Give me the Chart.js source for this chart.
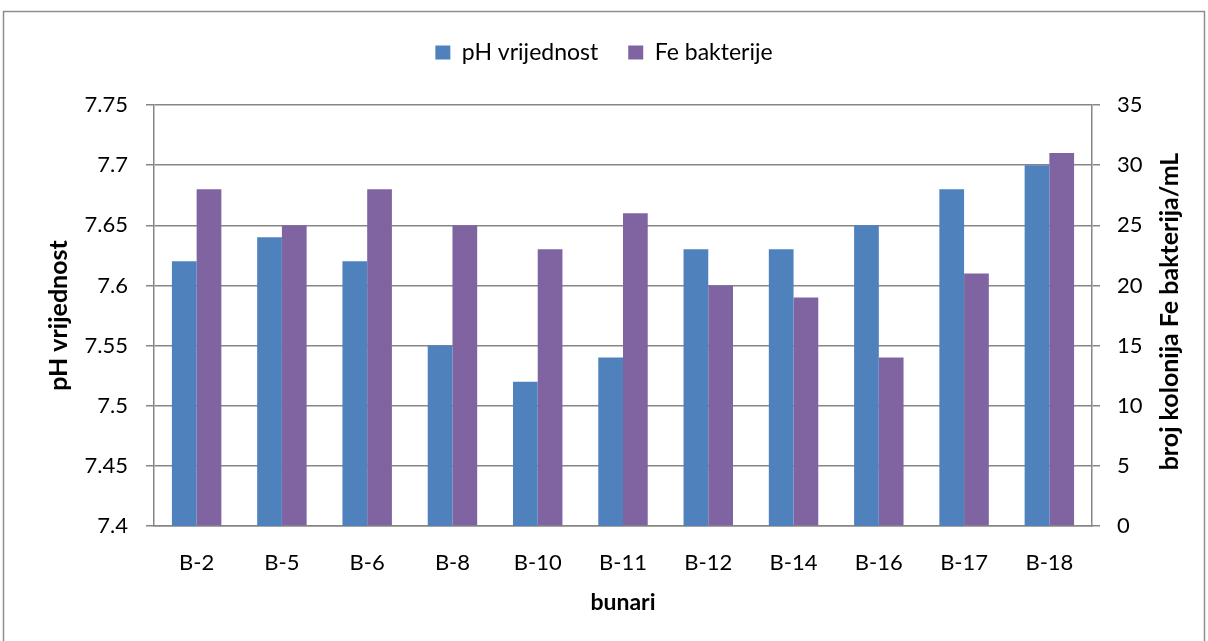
<!DOCTYPE html>
<html>
<head>
<meta charset="utf-8">
<script src="https://cdn.jsdelivr.net/npm/chart.js@4.4.0/dist/chart.umd.min.js"></script>
<style>
html, body { margin: 0; padding: 0; background: #fff; }
#wrap { width: 1208px; height: 641px; position: relative; }
</style>
</head>
<body>
<div id="wrap"><canvas id="chart" width="1208" height="641"></canvas></div>
<script>
// data
const bunari = ['B-2', 'B-5', 'B-6', 'B-8', 'B-10', 'B-11', 'B-12', 'B-14', 'B-16', 'B-17', 'B-18'];
const phVrijednost = [7.62, 7.64, 7.62, 7.55, 7.52, 7.54, 7.63, 7.63, 7.65, 7.68, 7.70];
const feBakterije = [28, 25, 28, 25, 23, 26, 20, 19, 14, 21, 31];
const phTicks = ['7.4', '7.45', '7.5', '7.55', '7.6', '7.65', '7.7', '7.75'];
const feTicks = ['0', '5', '10', '15', '20', '25', '30', '35'];
const rightTitle = 'broj kolonija Fe bakterija/mL';

const gray = '#868686';
const fontName = 'Lato';

// outer frame + right axis title (reads bottom to top like the left one)
const frame = {
    id: 'frame',
    beforeDraw(chart) {
        const ctx = chart.ctx;
        ctx.save();
        ctx.fillStyle = '#fff';
        ctx.fillRect(0, 0, chart.width, chart.height);
        ctx.strokeStyle = '#8e8e8e';
        ctx.lineWidth = 1.5;
        ctx.strokeRect(3.5, 11.5, 1201, 700);
        ctx.restore();
    },
    afterDraw(chart) {
        const ctx = chart.ctx;
        const a = chart.chartArea;
        ctx.save();
        ctx.translate(chart.scales.y1.right - 38, (a.top + a.bottom) / 2 - 4);
        ctx.rotate(-Math.PI / 2);
        ctx.font = 'bold 25px ' + fontName;
        ctx.fillStyle = '#000';
        ctx.textAlign = 'center';
        ctx.textBaseline = 'middle';
        ctx.fillText(rightTitle, 0, 0);
        ctx.restore();
    }
};

const legendSize = {
    id: 'legendSize',
    beforeInit(chart) {
        const fit = chart.legend.fit;
        chart.legend.fit = function () {
            fit.bind(chart.legend)();
            this.height = 105 - 11;
        };
    }
};

new Chart(document.getElementById('chart'), {
    type: 'bar',
    data: {
        labels: bunari,
        datasets: [{
            label: 'pH vrijednost',
            data: phVrijednost,
            backgroundColor: '#4F81BD',
            yAxisID: 'y',
            categoryPercentage: 0.58,
            barPercentage: 1.0
        }, {
            label: 'Fe bakterije',
            data: feBakterije,
            backgroundColor: '#8064A2',
            yAxisID: 'y1',
            categoryPercentage: 0.58,
            barPercentage: 1.0
        }]
    },
    options: {
        responsive: false,
        animation: false,
        layout: { padding: { top: 11, left: 0, right: 0, bottom: 0 } },
        plugins: {
            legend: {
                position: 'top',
                labels: {
                    boxWidth: 15,
                    boxHeight: 14,
                    padding: 30,
                    color: '#000',
                    font: { family: fontName, size: 23 }
                }
            },
            tooltip: { enabled: false }
        },
        scales: {
            x: {
                grid: { display: false, drawTicks: false },
                border: { display: true, color: gray, width: 1.5 },
                ticks: { color: '#000', padding: 24, font: { family: fontName, size: 22 } },
                title: { display: true, text: 'bunari', color: '#000', padding: { top: 0, bottom: 25 },
                         font: { family: fontName, size: 23, weight: 'bold' } },
                afterFit(scale) { scale.height = 641 - 526; }
            },
            y: {
                position: 'left',
                min: 7.4,
                max: 7.75,
                grid: { color: gray, lineWidth: 1.5, tickLength: 8 },
                border: { display: true, color: gray, width: 1.5 },
                ticks: {
                    stepSize: 0.05,
                    padding: 18,
                    color: '#000',
                    font: { family: fontName, size: 22 },
                    callback: (v, i) => phTicks[i]
                },
                title: { display: true, text: 'pH vrijednost', color: '#000', padding: { top: 44, bottom: 0 },
                         font: { family: fontName, size: 25, weight: 'bold' } },
                afterFit(scale) { scale.width = 154; }
            },
            y1: {
                position: 'right',
                min: 0,
                max: 35,
                grid: { drawOnChartArea: false, color: gray, lineWidth: 1.5, tickLength: 8 },
                border: { display: true, color: gray, width: 1.5 },
                ticks: {
                    stepSize: 5,
                    padding: 17,
                    color: '#000',
                    font: { family: fontName, size: 22 },
                    callback: (v, i) => feTicks[i]
                },
                afterFit(scale) { scale.width = 1208 - 1092; }
            }
        }
    },
    plugins: [frame, legendSize]
});
</script>
</body>
</html>
